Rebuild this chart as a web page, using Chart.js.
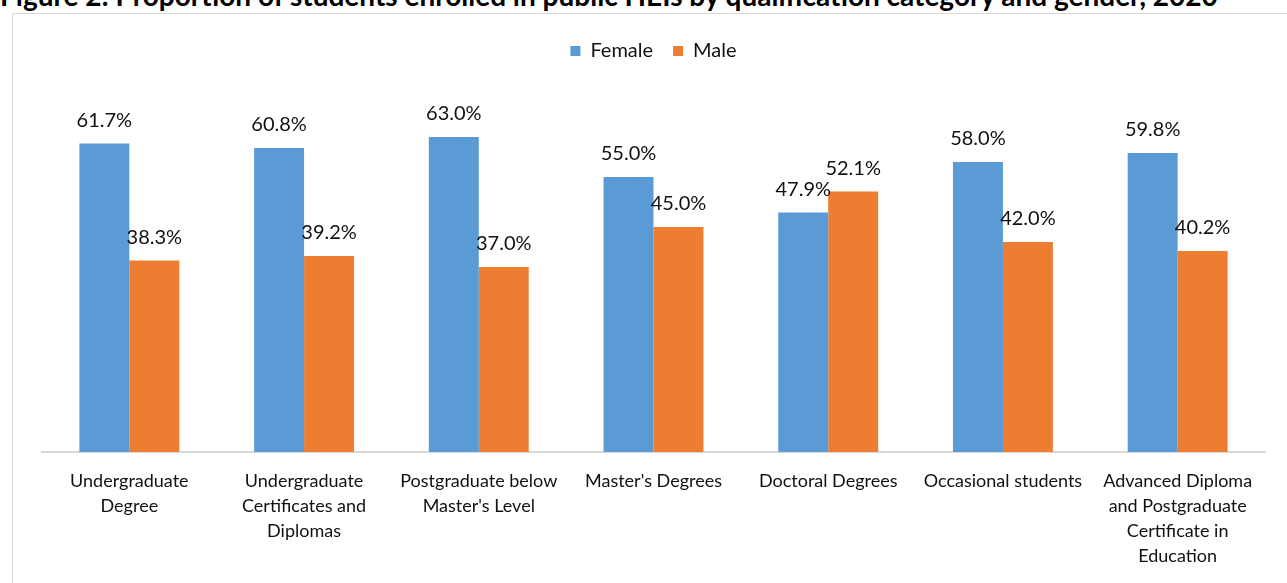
<!DOCTYPE html>
<html>
<head>
<meta charset="utf-8">
<script src="https://cdn.jsdelivr.net/npm/chart.js@4.4.1/dist/chart.umd.min.js"></script>
<style>
    html, body { margin: 0; padding: 0; background: #ffffff; overflow: hidden; }
    body { width: 1287px; height: 583px; position: relative; font-family: Lato, sans-serif; }
    #fig-title {
        position: absolute; left: 0; top: -19px; white-space: nowrap;
        font: bold 28px/28px Lato, sans-serif; color: #000;
    }
    #frame {
        position: absolute; left: 12px; top: 13px; width: 1300px; height: 600px;
        border: 1px solid #d9d9d9; box-sizing: border-box;
    }
    #wrap { position: absolute; left: 0; top: 0; width: 1287px; height: 583px; }
</style>
</head>
<body>
<div id="fig-title">Figure 2: Proportion of students enrolled in public HEIs by qualification category and gender, 2020</div>
<div id="frame"></div>
<div id="wrap"><canvas id="qual-chart"></canvas></div>
<script>
"use strict";

// Qualification categories (already split into display lines)
const categories = [
    ['Undergraduate', 'Degree'],
    ['Undergraduate', 'Certificates and', 'Diplomas'],
    ['Postgraduate below', "Master's Level"],
    ["Master's Degrees"],
    ['Doctoral Degrees'],
    ['Occasional students'],
    ['Advanced Diploma', 'and Postgraduate', 'Certificate in', 'Education']
];

const seriesNames = ['Female', 'Male'];
const femaleShare = [61.7, 60.8, 63.0, 55.0, 47.9, 58.0, 59.8];
const maleShare = [38.3, 39.2, 37.0, 45.0, 52.1, 42.0, 40.2];

/**
 * Writes the percentage above every bar
 */
const barValueLabels = {
    id: 'barValueLabels',
    afterDatasetsDraw(chart) {
        const ctx = chart.ctx;
        ctx.save();
        ctx.font = '20px Lato, sans-serif';
        ctx.fillStyle = '#111111';
        ctx.textAlign = 'center';
        ctx.textBaseline = 'alphabetic';
        chart.data.datasets.forEach((ds, i) => {
            const meta = chart.getDatasetMeta(i);
            meta.data.forEach((bar, j) => {
                ctx.fillText(ds.data[j].toFixed(1) + '%', bar.x, bar.y - 17);
            });
        });
        ctx.restore();
    }
};

document.addEventListener('DOMContentLoaded', () => {
    const ctx = document.getElementById('qual-chart').getContext('2d');

    new Chart(ctx, {
        type: 'bar',
        data: {
            labels: categories,
            datasets: [
                {
                    label: seriesNames[0],
                    data: femaleShare,
                    backgroundColor: '#5b9bd5',
                    categoryPercentage: 0.572,
                    barPercentage: 1.0
                },
                {
                    label: seriesNames[1],
                    data: maleShare,
                    backgroundColor: '#ed7d31',
                    categoryPercentage: 0.572,
                    barPercentage: 1.0
                }
            ]
        },
        options: {
            responsive: true,
            maintainAspectRatio: false,
            animation: false,
            layout: {
                padding: { top: 21, left: 42, right: 22, bottom: 0 }
            },
            plugins: {
                legend: {
                    position: 'top',
                    labels: {
                        boxWidth: 10,
                        boxHeight: 10,
                        padding: 20,
                        color: '#111111',
                        font: { family: 'Lato', size: 20 }
                    }
                },
                tooltip: { enabled: false }
            },
            scales: {
                x: {
                    grid: { display: false, drawTicks: false },
                    border: { display: true, color: '#d9d9d9', width: 2 },
                    ticks: {
                        color: '#111111',
                        padding: 17,
                        maxRotation: 0,
                        autoSkip: false,
                        font: { family: 'Lato', size: 18, lineHeight: '25px' }
                    },
                    afterFit: (scale) => { scale.height = 131; }
                },
                y: {
                    display: false,
                    min: 0,
                    max: 76.2
                }
            }
        },
        plugins: [barValueLabels]
    });
});
</script>
</body>
</html>
